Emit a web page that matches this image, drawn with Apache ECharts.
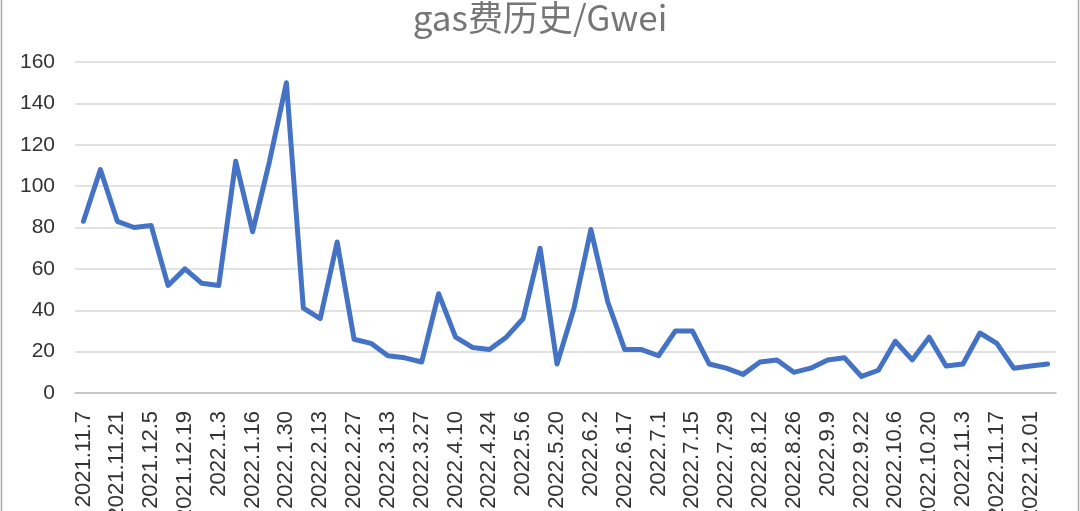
<!DOCTYPE html>
<html>
<head>
<meta charset="utf-8">
<script src="https://cdn.jsdelivr.net/npm/echarts@6/dist/echarts.min.js"></script>
<style>
html,body{margin:0;padding:0;background:#fff;}
#chart{width:1080px;height:511px;}
</style>
</head>
<body>
<div id="chart"></div>
<script>
const categories = [
  '2021.11.7','2021.11.14','2021.11.21','2021.11.28','2021.12.5','2021.12.12','2021.12.19','2021.12.26',
  '2022.1.3','2022.1.9','2022.1.16','2022.1.23','2022.1.30','2022.2.6','2022.2.13','2022.2.20',
  '2022.2.27','2022.3.6','2022.3.13','2022.3.20','2022.3.27','2022.4.3','2022.4.10','2022.4.17',
  '2022.4.24','2022.4.30','2022.5.6','2022.5.13','2022.5.20','2022.5.27','2022.6.2','2022.6.10',
  '2022.6.17','2022.6.24','2022.7.1','2022.7.8','2022.7.15','2022.7.22','2022.7.29','2022.8.5',
  '2022.8.12','2022.8.19','2022.8.26','2022.9.2','2022.9.9','2022.9.16','2022.9.22','2022.9.29',
  '2022.10.6','2022.10.13','2022.10.20','2022.10.27','2022.11.3','2022.11.10','2022.11.17','2022.11.24',
  '2022.12.01','2022.12.08'
];
const gasValues = [
  83,108,83,80,81,52,60,53,52,112,78,112,150,41,36,73,
  26,24,18,17,15,48,27,22,21,27,36,70,14,41,79,44,
  21,21,18,30,30,14,12,9,15,16,10,12,16,17,8,11,
  25,16,27,13,14,29,24,12,13,14
];
const yTicks = { min: 0, max: 160, interval: 20 };
const titleText = 'gas费历史/Gwei';

const chart = echarts.init(document.getElementById('chart'), null, {renderer: 'canvas'});
chart.setOption({
  animation: false,
  backgroundColor: '#ffffff',
  title: {
    text: titleText,
    left: 'center',
    top: -5,
    textStyle: {
      fontFamily: '"Noto Sans CJK SC", "Noto Sans", sans-serif',
      fontSize: 35,
      fontWeight: 'normal',
      color: '#767676'
    }
  },
  graphic: [{
    type: 'rect',
    shape: {x: 1.5, y: -2, width: 1077, height: 520},
    style: {fill: 'none', stroke: '#a6a6a6', lineWidth: 1.5},
    silent: true
  }],
  grid: {left: 75, right: 24, top: 62, bottom: 118, containLabel: false, outerBoundsMode: 'none'},
  xAxis: {
    type: 'category',
    data: categories,
    boundaryGap: true,
    axisLine: {show: true, lineStyle: {color: '#bfbfbf', width: 1.5}},
    axisTick: {show: false},
    axisLabel: {
      interval: 1,
      rotate: 90,
      margin: 18,
      fontFamily: '"Liberation Sans", Arial, sans-serif',
      fontSize: 22,
      color: '#333333'
    },
    splitLine: {show: false}
  },
  yAxis: {
    type: 'value',
    min: yTicks.min,
    max: yTicks.max,
    interval: yTicks.interval,
    axisLine: {show: false},
    axisTick: {show: false},
    axisLabel: {
      margin: 20,
      fontFamily: '"Liberation Sans", Arial, sans-serif',
      fontSize: 21,
      color: '#333333'
    },
    splitLine: {show: true, lineStyle: {color: '#d9d9d9', width: 1.5}}
  },
  series: [{
    type: 'line',
    data: gasValues,
    symbol: 'none',
    lineStyle: {color: '#4472C4', width: 5, join: 'round', cap: 'round'},
    itemStyle: {color: '#4472C4'}
  }]
});
</script>
</body>
</html>
